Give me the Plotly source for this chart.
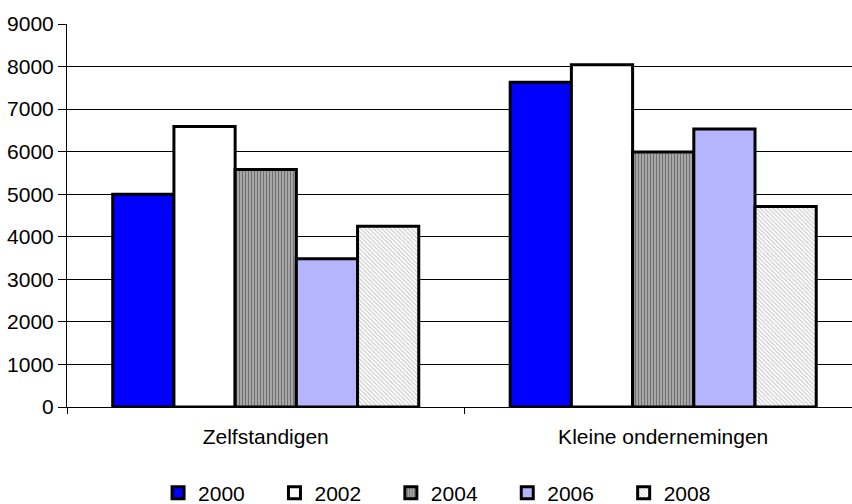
import plotly.graph_objects as go

categories = ["Zelfstandigen", "Kleine ondernemingen"]
years = ["2000", "2002", "2004", "2006", "2008"]
v2000 = [5000, 7630]
v2002 = [6590, 8040]
v2004 = [5580, 5990]
v2006 = [3485, 6530]
v2008 = [4250, 4710]
series = [v2000, v2002, v2004, v2006, v2008]
y_ticks = [0, 1000, 2000, 3000, 4000, 5000, 6000, 7000, 8000, 9000]

styles = [
    dict(color="#0000ff"),
    dict(color="#ffffff"),
    dict(color="#a0a0a0", pattern=dict(shape="|", fgcolor="#303030", bgcolor="#b0b0b0", size=3, solidity=0.45)),
    dict(color="#b4b4ff"),
    dict(color="#ffffff", pattern=dict(shape="\\", fgcolor="#8c8c8c", bgcolor="#ffffff", size=3, solidity=0.35)),
]

fig = go.Figure()
for name, vals, st in zip(years, series, styles):
    marker = dict(color=st["color"], line=dict(color="#000000", width=3))
    if "pattern" in st:
        marker["pattern"] = st["pattern"]
    fig.add_trace(go.Bar(x=categories, y=vals, name=name, marker=marker))

font = "Liberation Sans, Arial, Helvetica, sans-serif"
fig.update_layout(
    width=852, height=504,
    margin=dict(l=67, r=0, t=24, b=97, autoexpand=False),
    paper_bgcolor="white", plot_bgcolor="white",
    barmode="group", bargap=0.23, bargroupgap=0,
    font=dict(family=font, size=21, color="#000000"),
    showlegend=True,
    legend=dict(orientation="h", x=0.116, xanchor="left", y=-0.2245, yanchor="middle",
                entrywidth=71.4, font=dict(size=21), traceorder="normal",
                itemwidth=30),
    xaxis=dict(range=[-0.5, 1.475], showline=True, linecolor="#000000", linewidth=1,
               ticks="outside", tickson="boundaries", ticklen=6, tickcolor="#000000",
               ticklabelstandoff=11, showgrid=False, fixedrange=True, automargin=False),
    yaxis=dict(range=[0, 9000], tickvals=y_ticks, showline=True, linecolor="#000000",
               linewidth=1, ticks="outside", ticklen=8, tickcolor="#000000",
               showgrid=True, gridcolor="#000000", gridwidth=1, zeroline=False,
               ticklabelstandoff=0, fixedrange=True, automargin=False),
)

fig.write_html(
    "out.html",
    config={"displayModeBar": False, "staticPlot": True},
    post_script="document.body.style.margin='0';document.body.style.overflow='hidden';",
)
